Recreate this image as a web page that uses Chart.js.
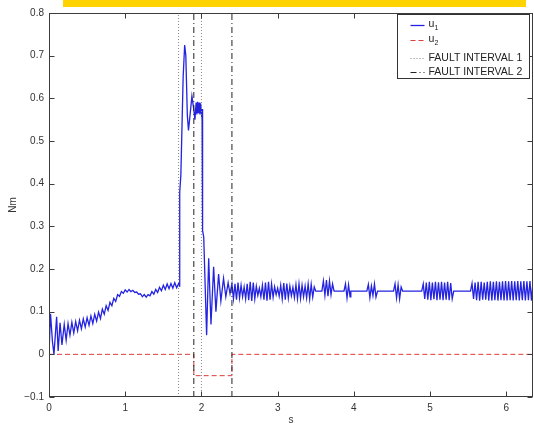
<!DOCTYPE html>
<html>
<head>
<meta charset="utf-8">
<title>u1 / u2 fault response</title>
<script src="https://cdn.jsdelivr.net/npm/chart.js@4.4.0/dist/chart.umd.min.js"></script>
<style>
  html, body { margin: 0; padding: 0; background: #fff; overflow: hidden; }
  #wrap { position: relative; width: 534px; height: 423px; }
  #wrap canvas { position: absolute; left: 0; top: 0; }
  #banner { position: absolute; left: 63px; top: 0; width: 463px; height: 7px; background: #ffd300; }
</style>
</head>
<body>
<div id="wrap">
  <canvas id="myChart" width="534" height="423"></canvas>
  <div id="banner"></div>
</div>
<script>
// axis ticks
const xTickValues = [0, 1, 2, 3, 4, 5, 6];
const xTickLabels = ['0', '1', '2', '3', '4', '5', '6'];
const yTickValues = [0.8, 0.7, 0.6, 0.5, 0.4, 0.3, 0.2, 0.1, 0, -0.1];
const yTickLabels = ['0.8', '0.7', '0.6', '0.5', '0.4', '0.3', '0.2', '0.1', '0', '\u22120.1'];

// u1, [time s, torque Nm]
const u1Start = [
  [0, 0], [0.02, 0.095], [0.045, 0.03], [0.065, 0], [0.1, 0.088], [0.12, 0.008],
  [0.145, 0.074], [0.17, 0.022], [0.2, 0.07], [0.225, 0.033], [0.25, 0.072], [0.275, 0.045],
  [0.3, 0.075], [0.325, 0.05], [0.35, 0.077], [0.375, 0.055], [0.4, 0.08], [0.425, 0.06],
  [0.45, 0.083], [0.475, 0.064], [0.5, 0.086], [0.525, 0.068], [0.55, 0.09], [0.575, 0.072],
  [0.6, 0.094], [0.625, 0.078], [0.65, 0.099], [0.675, 0.084], [0.7, 0.106], [0.725, 0.094],
  [0.75, 0.114], [0.775, 0.103], [0.8, 0.122], [0.825, 0.114], [0.85, 0.131], [0.875, 0.124],
  [0.9, 0.14], [0.925, 0.136], [0.95, 0.147], [0.975, 0.143], [1.0, 0.151], [1.025, 0.146],
  [1.05, 0.152], [1.075, 0.147], [1.1, 0.15], [1.125, 0.145], [1.15, 0.146], [1.175, 0.141],
  [1.2, 0.142], [1.225, 0.135], [1.25, 0.14], [1.275, 0.134], [1.3, 0.14], [1.325, 0.137],
  [1.35, 0.147], [1.375, 0.141], [1.4, 0.152], [1.425, 0.145], [1.45, 0.157], [1.475, 0.149],
  [1.5, 0.162], [1.525, 0.152], [1.55, 0.165], [1.575, 0.154], [1.6, 0.166], [1.625, 0.155],
  [1.65, 0.168], [1.675, 0.156], [1.7, 0.166], [1.71, 0.16]
];
const u1Fault = [
  [1.715, 0.38], [1.73, 0.42], [1.76, 0.65], [1.78, 0.725], [1.795, 0.7], [1.815, 0.56],
  [1.83, 0.525], [1.85, 0.56], [1.875, 0.605], [1.895, 0.58], [1.915, 0.55], [1.93, 0.59],
  [1.94, 0.562], [1.95, 0.592], [1.96, 0.565], [1.97, 0.59], [1.98, 0.562], [1.99, 0.588],
  [2.0, 0.565], [2.008, 0.575], [2.015, 0.29], [2.03, 0.275], [2.068, 0.045], [2.095, 0.225],
  [2.125, 0.07], [2.16, 0.205], [2.19, 0.1], [2.225, 0.188], [2.255, 0.125], [2.29, 0.178],
  [2.32, 0.135], [2.35, 0.168], [2.375, 0.142], [2.4, 0.165]
];
const u1Steady = [
  [2.42, 0.13], [2.44, 0.165], [2.46, 0.128], [2.48, 0.168], [2.5, 0.132], [2.52, 0.162],
  [2.54, 0.135], [2.56, 0.158], [2.58, 0.13], [2.6, 0.165], [2.62, 0.127], [2.64, 0.17],
  [2.66, 0.125], [2.68, 0.168], [2.7, 0.13], [2.72, 0.16], [2.74, 0.138], [2.76, 0.155],
  [2.78, 0.135], [2.8, 0.162], [2.82, 0.128], [2.84, 0.168], [2.86, 0.126], [2.88, 0.17],
  [2.9, 0.128], [2.92, 0.165], [2.94, 0.134], [2.96, 0.158], [2.98, 0.14], [3.0, 0.155],
  [3.02, 0.136], [3.04, 0.162], [3.06, 0.13], [3.08, 0.167], [3.1, 0.128], [3.12, 0.166],
  [3.14, 0.132], [3.16, 0.16], [3.18, 0.137], [3.2, 0.157], [3.22, 0.133], [3.24, 0.163],
  [3.26, 0.13], [3.28, 0.165], [3.3, 0.131], [3.32, 0.162], [3.34, 0.135], [3.36, 0.16],
  [3.38, 0.132], [3.4, 0.165], [3.42, 0.13], [3.44, 0.164], [3.46, 0.134], [3.48, 0.158],
  [3.5, 0.148], [3.58, 0.148],
  [3.6, 0.172], [3.62, 0.138], [3.64, 0.174], [3.66, 0.136], [3.68, 0.172], [3.7, 0.14],
  [3.72, 0.165], [3.74, 0.148], [3.87, 0.148],
  [3.89, 0.165], [3.91, 0.132], [3.93, 0.163], [3.95, 0.135], [3.96, 0.148], [4.17, 0.148],
  [4.19, 0.164], [4.21, 0.133], [4.23, 0.16], [4.25, 0.138], [4.27, 0.165], [4.29, 0.134],
  [4.31, 0.148], [4.52, 0.148],
  [4.54, 0.165], [4.56, 0.132], [4.58, 0.163], [4.6, 0.13], [4.62, 0.158], [4.64, 0.148],
  [4.89, 0.148],
  [4.91, 0.165], [4.93, 0.13], [4.95, 0.168], [4.97, 0.128], [4.99, 0.17], [5.01, 0.127],
  [5.03, 0.168], [5.05, 0.129], [5.07, 0.17], [5.09, 0.127], [5.11, 0.169], [5.13, 0.128],
  [5.15, 0.17], [5.17, 0.127], [5.19, 0.168], [5.21, 0.128], [5.23, 0.17], [5.25, 0.127],
  [5.27, 0.167], [5.29, 0.13], [5.31, 0.148], [5.53, 0.148],
  [5.55, 0.166], [5.57, 0.13], [5.59, 0.168], [5.61, 0.127], [5.63, 0.17], [5.65, 0.126],
  [5.67, 0.17], [5.69, 0.128], [5.71, 0.168], [5.73, 0.128], [5.75, 0.17], [5.77, 0.126],
  [5.79, 0.171], [5.81, 0.126], [5.83, 0.17], [5.85, 0.127], [5.87, 0.171], [5.89, 0.126],
  [5.91, 0.17], [5.93, 0.127], [5.95, 0.171], [5.97, 0.126], [5.99, 0.172], [6.01, 0.126],
  [6.03, 0.171], [6.05, 0.127], [6.07, 0.172], [6.09, 0.126], [6.11, 0.171], [6.13, 0.127],
  [6.15, 0.172], [6.17, 0.126], [6.19, 0.171], [6.21, 0.127], [6.23, 0.172], [6.25, 0.126],
  [6.27, 0.171], [6.29, 0.127], [6.31, 0.172], [6.33, 0.126], [6.35, 0.17]
];

// u2 step during the second fault
const u2Points = [[0, 0], [1.9, 0], [1.9, -0.05], [2.4, -0.05], [2.4, 0], [6.35, 0]];

// fault windows (start, end) in seconds
const faultInterval1 = [1.7, 2.0];
const faultInterval2 = [1.9, 2.4];

const xMin = 0, xMax = 6.35, yMin = -0.1, yMax = 0.8;

function toXY(list) {
  return list.map(([x, y]) => ({ x, y }));
}

// vertical markers from the bottom to the top of the axes, broken by a null
function faultLines(times) {
  const pts = [];
  times.forEach((t, i) => {
    if (i > 0) pts.push({ x: t, y: null });
    pts.push({ x: t, y: yMin }, { x: t, y: yMax });
  });
  return pts;
}

const matlabAxes = {
  id: 'matlabAxes',
  afterDatasetsDraw(chart) {
    const { ctx, chartArea: a, scales: { x, y } } = chart;
    const L = Math.round(a.left) + 0.5, R = Math.round(a.right) - 0.5;
    const T = Math.round(a.top) + 0.5, B = Math.round(a.bottom) - 0.5;
    ctx.save();
    ctx.strokeStyle = '#3c3c3c';
    ctx.lineWidth = 1;
    ctx.setLineDash([]);
    ctx.strokeRect(L, T, R - L, B - T);
    ctx.beginPath();
    x.ticks.forEach((t) => {
      const px = Math.round(x.getPixelForValue(t.value)) + 0.5;
      ctx.moveTo(px, B); ctx.lineTo(px, B - 5);
      ctx.moveTo(px, T); ctx.lineTo(px, T + 5);
    });
    y.ticks.forEach((t) => {
      const py = Math.round(y.getPixelForValue(t.value)) + 0.5;
      ctx.moveTo(L, py); ctx.lineTo(L + 5, py);
      ctx.moveTo(R, py); ctx.lineTo(R - 5, py);
    });
    ctx.stroke();
    ctx.restore();
  }
};

const legendBox = {
  id: 'legendBox',
  afterDraw(chart) {
    const { ctx, chartArea: a } = chart;
    const right = Math.round(a.right) - 3.5, top = Math.round(a.top) + 1.5;
    const left = right - 132, bottom = top + 64;
    const rows = [10, 25, 43, 57];
    ctx.save();
    ctx.fillStyle = '#fff';
    ctx.fillRect(left, top, right - left, bottom - top);
    ctx.strokeStyle = '#333';
    ctx.lineWidth = 1;
    ctx.strokeRect(left, top, right - left, bottom - top);
    chart.data.datasets.forEach((ds, i) => {
      const yy = Math.round(top + rows[i]) + 0.5;
      ctx.strokeStyle = ds.borderColor;
      ctx.lineWidth = ds.borderWidth;
      ctx.setLineDash(ds.borderDash || []);
      ctx.beginPath();
      ctx.moveTo(left + 13, yy);
      ctx.lineTo(left + 27, yy);
      ctx.stroke();
      ctx.setLineDash([]);
      ctx.fillStyle = '#222';
      ctx.textBaseline = 'middle';
      const sub = ds.label.match(/^u(\d)$/);
      if (sub) {
        ctx.font = '10.5px "Liberation Sans", Arial, sans-serif';
        ctx.fillText('u', left + 31, yy - 1);
        ctx.font = '7px "Liberation Sans", Arial, sans-serif';
        ctx.fillText(sub[1], left + 37, yy + 3);
      } else {
        ctx.font = '10.5px "Liberation Sans", Arial, sans-serif';
        ctx.fillText(ds.label, left + 31, yy);
      }
    });
    ctx.restore();
  }
};

function mainEvent() {
  const target = document.querySelector('#myChart');
  const tickFont = { family: '"Liberation Sans", Arial, sans-serif', size: 10 };

  const chart = new Chart(target, {
    type: 'scatter',
    data: {
      datasets: [
        {
          label: 'u1',
          data: toXY([...u1Start, ...u1Fault, ...u1Steady]),
          showLine: true, borderColor: 'rgb(35,35,225)', borderWidth: 1.3,
          pointRadius: 0, tension: 0, order: 3
        },
        {
          label: 'u2',
          data: toXY(u2Points),
          showLine: true, borderColor: 'rgb(220,60,60)', borderWidth: 1,
          borderDash: [5, 3], pointRadius: 0, tension: 0, order: 2
        },
        {
          label: 'FAULT INTERVAL 1',
          data: faultLines(faultInterval1),
          showLine: true, spanGaps: false, borderColor: '#8a8a8a', borderWidth: 1,
          borderDash: [1, 2], pointRadius: 0, order: 1
        },
        {
          label: 'FAULT INTERVAL 2',
          data: faultLines(faultInterval2),
          showLine: true, spanGaps: false, borderColor: '#222', borderWidth: 1,
          borderDash: [6, 3, 1, 3], pointRadius: 0, order: 0
        }
      ]
    },
    options: {
      responsive: false,
      devicePixelRatio: 1,
      animation: false,
      layout: { padding: { top: 13, right: 1, left: 0, bottom: 0 } },
      plugins: { legend: { display: false }, tooltip: { enabled: false } },
      scales: {
        x: {
          type: 'linear', min: xMin, max: xMax,
          grid: { display: false, drawTicks: false }, border: { display: false },
          afterBuildTicks: (scale) => { scale.ticks = xTickValues.map((v) => ({ value: v })); },
          afterFit: (scale) => { scale.height = 26; },
          ticks: {
            padding: 5, color: '#333', font: tickFont, maxRotation: 0,
            callback: (value, index) => xTickLabels[index]
          },
          title: { display: true, text: 's', color: '#333', font: tickFont, padding: { top: 0, bottom: -3 } }
        },
        y: {
          type: 'linear', min: yMin, max: yMax,
          grid: { display: false, drawTicks: false }, border: { display: false },
          afterBuildTicks: (scale) => { scale.ticks = yTickValues.map((v) => ({ value: v })); },
          afterFit: (scale) => { scale.width = 49; },
          ticks: {
            padding: 5, color: '#333', font: tickFont,
            callback: (value, index) => yTickLabels[index]
          },
          title: { display: true, text: 'Nm', color: '#333', font: tickFont, padding: { top: 7, bottom: 0 } }
        }
      }
    },
    plugins: [matlabAxes, legendBox]
  });
  return chart;
}

document.addEventListener('DOMContentLoaded', () => mainEvent());
</script>
</body>
</html>
